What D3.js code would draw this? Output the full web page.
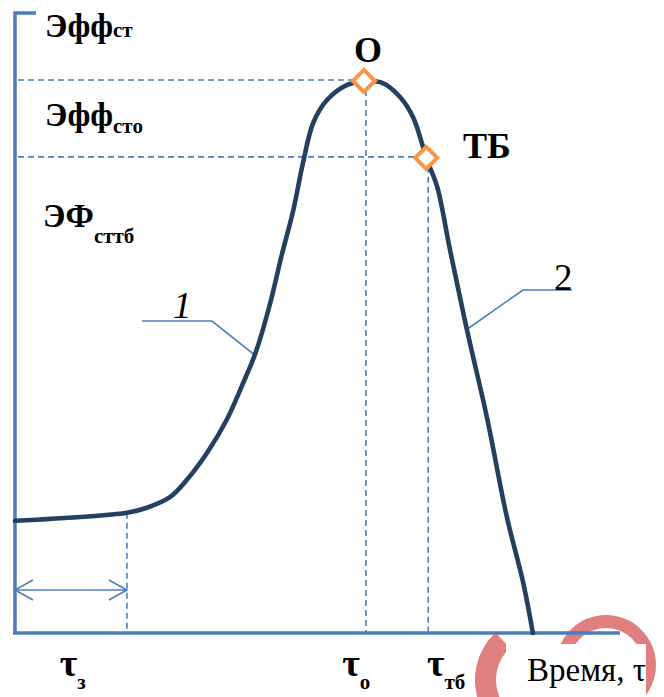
<!DOCTYPE html>
<html>
<head>
<meta charset="utf-8">
<script src="https://cdn.jsdelivr.net/npm/d3@7"></script>
<style>
  html, body { margin: 0; padding: 0; background: #fff; }
  svg { display: block; }
</style>
</head>
<body>
<div id="chart"></div>
<script>
// curve of efficiency over time (arbitrary units)
const timeVals = [0, 1.85, 2.18, 2.56, 2.84, 3.17, 3.5, 3.77, 3.98, 4.21, 4.41, 4.6, 4.76, 4.93, 5.16, 5.49, 5.75, 6.08, 6.36, 6.58, 6.81, 6.98, 7.19, 7.47, 7.8, 8.13, 8.4, 8.56];
const effVals  = [1.81, 1.94, 2.02, 2.19, 2.47, 2.9, 3.44, 4.03, 4.53, 5.29, 6.1, 6.82, 7.58, 8.23, 8.6, 8.84, 8.9, 8.87, 8.65, 8.32, 7.63, 7.19, 6.18, 4.89, 3.48, 1.87, 0.81, 0];

// special points
const optimum = { t: 5.8, e: 8.92, name: 'О' };
const bound = { t: 6.83, e: 7.68, name: 'ТБ' };
const startT = 1.85;

// axis labels
const yLabels = [
  { main: 'Эфф', sub: 'ст', e: 9.61 },
  { main: 'Эфф', sub: 'сто', e: 8.18 },
  { main: 'ЭФ', sub: 'сттб', e: 6.55 }
];
const xLabels = [
  { main: 'τ', sub: 'з', t: 0.74 },
  { main: 'τ', sub: 'о', t: 5.41 },
  { main: 'τ', sub: 'тб', t: 6.81 }
];
const xTitle = 'Время, τ';

const width = 664, height = 697;
const blue = '#4a7ebb', navy = '#243f60', orange = '#f79646';
const serif = '"Liberation Serif", "Times New Roman", "DejaVu Serif", serif';

const svg = d3.select('#chart').append('svg')
  .attr('width', width)
  .attr('height', height);

const x = d3.scaleLinear().domain([0, 10]).range([15, 620]);
const y = d3.scaleLinear().domain([0, 10]).range([633, 13]);

// watermark remnants
const wm = svg.append('g').attr('fill', '#e07f7f');
wm.append('path')
  .attr('transform', 'translate(606,665)')
  .attr('d', d3.arc().innerRadius(37).outerRadius(50).startAngle(0).endAngle(Math.PI * 2)());
wm.append('path')
  .attr('transform', 'translate(540,680)')
  .attr('d', d3.arc().innerRadius(44).outerRadius(65).startAngle(-Math.PI).endAngle(-Math.PI * 0.24)());
svg.append('rect')
  .attr('x', 506).attr('y', 644).attr('width', 140).attr('height', 53)
  .attr('fill', '#fff');

// dashed guides
const guides = svg.append('g')
  .attr('stroke', blue)
  .attr('stroke-width', 1.6)
  .attr('stroke-dasharray', '6,4')
  .attr('fill', 'none');
guides.append('line')
  .attr('x1', x(0) + 3).attr('x2', x(optimum.t)).attr('y1', y(optimum.e)).attr('y2', y(optimum.e));
guides.append('line')
  .attr('x1', x(0) + 3).attr('x2', x(bound.t)).attr('y1', y(bound.e)).attr('y2', y(bound.e));
guides.append('line')
  .attr('x1', x(optimum.t)).attr('x2', x(optimum.t)).attr('y1', y(optimum.e)).attr('y2', y(0));
guides.append('line')
  .attr('x1', x(bound.t)).attr('x2', x(bound.t)).attr('y1', y(bound.e)).attr('y2', y(0));
guides.append('line')
  .attr('x1', x(startT)).attr('x2', x(startT)).attr('y1', y(effVals[1])).attr('y2', y(0));

// axes
const axes = svg.append('g').attr('stroke', blue).attr('stroke-width', 3.5).attr('fill', 'none');
axes.append('path')
  .attr('d', `M${x(0) + 21},${y(10)} H${x(0)} V${y(0) + 1}`);
axes.append('line')
  .attr('x1', x(0) - 2).attr('x2', x(10)).attr('y1', y(0)).attr('y2', y(0));

// double arrow for τз
const ay = 590;
const arrow = svg.append('g').attr('stroke', blue).attr('stroke-width', 1.6).attr('fill', 'none');
arrow.append('line').attr('x1', x(0)).attr('x2', x(startT)).attr('y1', ay).attr('y2', ay);
arrow.append('path').attr('d', `M${x(0) + 18},${ay - 10} L${x(0)},${ay} L${x(0) + 18},${ay + 10}`);
arrow.append('path').attr('d', `M${x(startT) - 18},${ay - 10} L${x(startT)},${ay} L${x(startT) - 18},${ay + 10}`);

// leader lines for curve labels
const leaders = svg.append('g').attr('stroke', blue).attr('stroke-width', 1.6).attr('fill', 'none');
leaders.append('path').attr('d', `M142,321 H212 L256,356`);
leaders.append('path').attr('d', `M466,330 L523,290 H572`);

// main curve
const line = d3.line()
  .x(d => x(d[0]))
  .y(d => y(d[1]))
  .curve(d3.curveCatmullRom.alpha(0.5));
svg.append('path')
  .datum(d3.zip(timeVals, effVals))
  .attr('d', line)
  .attr('fill', 'none')
  .attr('stroke', navy)
  .attr('stroke-width', 4.6)
  .attr('stroke-linecap', 'round');

// markers
svg.selectAll('.marker')
  .data([optimum, bound])
  .enter()
  .append('path')
  .attr('class', 'marker')
  .attr('transform', d => `translate(${x(d.t) - 2},${y(d.e) + 1})`)
  .attr('d', 'M0,-11 L11,0 L0,11 L-11,0 Z')
  .attr('fill', '#fff')
  .attr('stroke', orange)
  .attr('stroke-width', 4);

function label(px, py, size) {
  return svg.append('text')
    .attr('x', px).attr('y', py)
    .attr('font-family', serif)
    .attr('font-size', size)
    .attr('fill', '#000');
}

// point names
label(x(optimum.t) + 2, 62, 36).attr('text-anchor', 'middle').attr('font-weight', 'bold').text(optimum.name);
label(463, 158, 36).attr('font-weight', 'bold').text(bound.name);

// y labels
yLabels.forEach((d, i) => {
  const t = label(i === 2 ? 43 : 45, y(d.e), 33).attr('font-weight', 'bold');
  t.append('tspan').text(d.main);
  t.append('tspan').attr('font-size', 21).attr('dy', i === 0 ? 0 : (i === 1 ? 7 : 16)).text(d.sub);
});

// x labels
xLabels.forEach(d => {
  const t = label(x(d.t), 676, 38).attr('font-weight', 'bold');
  t.append('tspan').text(d.main);
  t.append('tspan').attr('font-size', 21).attr('dy', 13).text(d.sub);
});
label(527, 681, 33).text(xTitle);

// curve numbers
label(173, 318, 37).attr('font-style', 'italic').text('1');
label(554, 290, 37).text('2');
</script>
</body>
</html>
